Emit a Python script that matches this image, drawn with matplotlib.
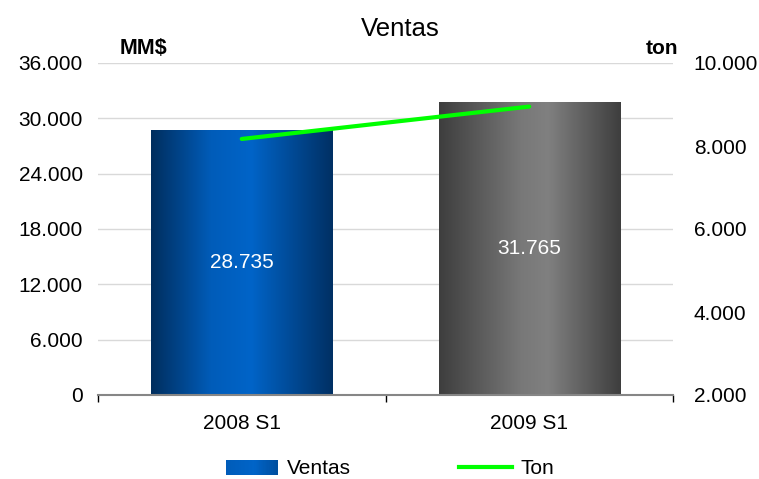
import numpy as np
import matplotlib
matplotlib.use("Agg")
import matplotlib.pyplot as plt
from matplotlib.patches import Rectangle
from matplotlib.lines import Line2D
from matplotlib.colors import LinearSegmentedColormap
from matplotlib.legend_handler import HandlerBase
from matplotlib.ticker import FuncFormatter

plt.rcParams['font.family'] = ['Liberation Sans', 'DejaVu Sans']

categories = ["2008 S1", "2009 S1"]
ventas = [28735, 31765]
ton = [8170, 8950]
left_ticks = [0, 6000, 12000, 18000, 24000, 30000, 36000]
right_ticks = [2000, 4000, 6000, 8000, 10000]

blue_cmap = LinearSegmentedColormap.from_list(
    "blue", [(0.0, (0/255, 46/255, 94/255)), (0.33, (0/255, 92/255, 185/255)),
             (0.55, (0/255, 100/255, 200/255)), (1.0, (0/255, 48/255, 100/255))])
grey_cmap = LinearSegmentedColormap.from_list(
    "grey", [(0.0, (62/255,)*3), (0.45, (120/255,)*3),
             (0.6, (128/255,)*3), (1.0, (62/255,)*3)])
cmaps = [blue_cmap, grey_cmap]

def fmt(v, pos=None):
    return f"{int(round(v)):,}".replace(",", ".")

fig = plt.figure(figsize=(7.59, 4.79), dpi=100)
ax = fig.add_axes([98/759, 84/479, 575/759, 332/479])
ax2 = ax.twinx()

x = np.arange(len(categories))
bars = ax.bar(x, ventas, width=0.63, facecolor='none', edgecolor='none', zorder=2)
grad = np.linspace(0, 1, 256).reshape(1, -1)
for b, cm in zip(bars, cmaps):
    x0, y0 = b.get_x(), b.get_y()
    w, h = b.get_width(), b.get_height()
    im = ax.imshow(grad, cmap=cm, aspect='auto', extent=[x0, x0 + w, y0, y0 + h],
                   zorder=2, interpolation='bilinear')
    im.set_clip_path(b)
    ax.text(x0 + w / 2, y0 + h / 2, fmt(h), color='white', ha='center', va='center',
            fontsize=15, zorder=3)

ax.set_xlim(-0.5, 1.5)
ax.set_ylim(0, 36000)
ax.set_yticks(left_ticks)
ax.yaxis.set_major_formatter(FuncFormatter(fmt))
ax.tick_params(axis='y', length=0, pad=11, labelsize=15)
ax.grid(axis='y', color='#d9d9d9', linewidth=1, zorder=0)
ax.set_axisbelow(True)

ax.set_xticks([-0.5, 0.5, 1.5])
ax.set_xticklabels([])
ax.set_xticks(x, minor=True)
ax.set_xticklabels(categories, minor=True)
ax.tick_params(axis='x', which='major', length=5, width=1.0, color='black', direction='out')
ax.tick_params(axis='x', which='minor', length=0, pad=14, labelsize=15)

for s in ['top', 'left', 'right']:
    ax.spines[s].set_visible(False)
ax.spines['bottom'].set_color('#868686')
ax.spines['bottom'].set_linewidth(1.5)

ax2.plot(x, ton, color='#00ff00', linewidth=3, solid_capstyle='round', zorder=4)
ax2.set_ylim(2000, 10000)
ax2.set_yticks(right_ticks)
ax2.yaxis.set_major_formatter(FuncFormatter(fmt))
ax2.tick_params(axis='y', length=0, pad=15, labelsize=15)
for s in ['top', 'left', 'right', 'bottom']:
    ax2.spines[s].set_visible(False)

fig.text(400/759, 1 - 29/479, "Ventas", ha='center', va='center', fontsize=18.5)
fig.text(143/759, 1 - 49/479, "MM$", ha='center', va='center', fontsize=15.5, fontweight='bold')
fig.text(678/759, 1 - 49/479, "ton", ha='right', va='center', fontsize=15, fontweight='bold')


class GradientHandler(HandlerBase):
    def create_artists(self, legend, orig_handle, xdescent, ydescent, width, height, fontsize, trans):
        n = 40
        arts = []
        for i in range(n):
            c = blue_cmap(0.33 + 0.67 * i / (n - 1) * 0.6)
            r = Rectangle((-xdescent + width * i / n, -ydescent), width / n + 0.3, height,
                          facecolor=c, edgecolor='none', transform=trans)
            arts.append(r)
        return arts


h1 = Rectangle((0, 0), 1, 1)
h2 = Line2D([0], [0], color='#00ff00', linewidth=3)
fig.legend([h1, h2], ["Ventas", "Ton"], handler_map={Rectangle: GradientHandler()},
           loc='center', bbox_to_anchor=(0.514, 1 - 469/479), ncol=2, frameon=False,
           fontsize=15, handlelength=2.5, handletextpad=0.45, columnspacing=5.2)

fig.savefig("out.png", dpi=100)
